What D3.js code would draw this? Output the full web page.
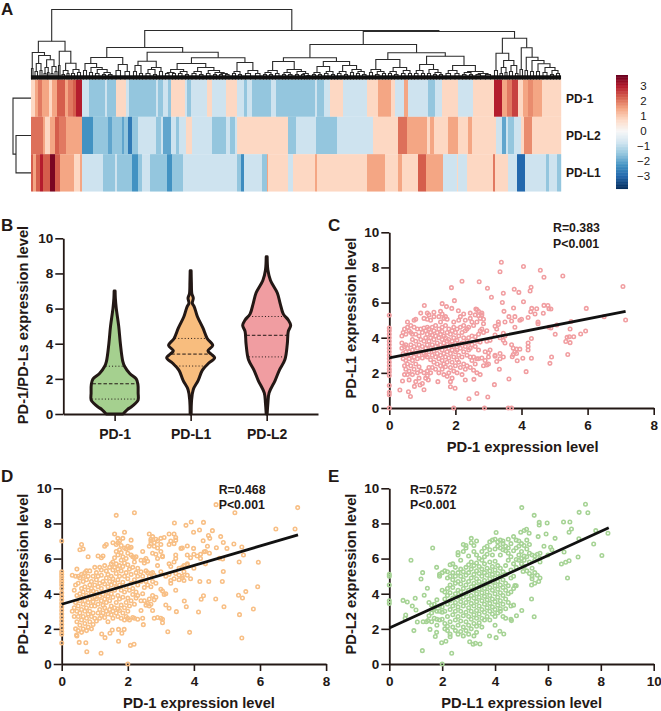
<!DOCTYPE html>
<html>
<head>
<meta charset="utf-8">
<script src="https://cdn.jsdelivr.net/npm/d3@7"></script>
<style>
    html, body { margin: 0; padding: 0; background: #ffffff; }
    svg { display: block; font-family: "Liberation Sans", Arial, sans-serif; }
    text { fill: #231815; }
</style>
</head>
<body>
<div id="graph"></div>
<script>
// ---------- The data ----------

var geneRows = [ 'PD-1', 'PD-L2', 'PD-L1' ];
var sampleCount = 530;
var legendTicks = [ 3, 2, 1, 0, -1, -2, -3 ];

// z-score runs per row: [ first sample of the run, value ]
var runsPD1 = [
    [0,.8],[4,1.5],[7,2],[11,1.5],[18,.8],[21,1.5],[26,2.3],[34,1.5],[37,2],[42,2.3],[45,3],[51,-.8],[58,-1.5],[74,-.8],
    [76,-1.5],[85,.8],[95,-.8],[98,-1.5],[125,-.8],[127,-1.5],[132,-.8],[137,-1.5],[140,.8],[154,-.8],[156,-1.5],[160,-.8],
    [176,.8],[181,-.8],[195,.8],[206,-.8],[213,-1.5],[216,-.8],[221,-1.5],[240,-.8],[245,-1.5],[284,-.8],[286,-1.5],[293,-.8],
    [299,.8],[312,-.8],[336,.8],[347,1.5],[360,.8],[364,-.8],[373,1.5],[377,-.8],[397,-1.5],[404,-.8],[411,.8],[427,-.8],
    [442,.8],[463,3],[471,1.5],[476,2],[481,2.6],[487,.8],[492,1.5],[497,1.8],[502,1.5],[511,.8]
];
var runsPDL2 = [
    [0,2.1],[12,1.5],[14,.8],[19,1.5],[24,2.3],[28,2],[35,1.5],[51,-2.3],[62,-1.5],[77,-2],[81,-1.5],[91,-2],[93,-1.5],
    [97,-2.7],[101,-1.5],[107,-.8],[125,-1.5],[130,-.8],[132,-2],[140,-.8],[145,-1.5],[148,-.8],[155,.8],[161,-.8],
    [181,-1.5],[195,-.8],[199,-1.5],[204,-.8],[206,.8],[257,-1.5],[265,-.8],[285,-1.5],[306,-.8],[342,.8],[367,2.1],
    [376,1.5],[396,.8],[399,1.5],[403,.8],[417,1.5],[427,.8],[437,1.5],[441,.8],[465,-.8],[471,-2],[475,-.8],[477,-1.5],
    [483,-.8],[490,.8],[493,1.8],[501,.8]
];
var runsPDL1 = [
    [0,2.3],[2,1.5],[5,2.3],[9,3],[12,2.3],[19,3.6],[24,2.3],[29,1.5],[43,.8],[49,1.5],[51,-.8],[72,-1.5],[84,-.8],[86,-1.5],
    [101,-2.3],[107,-1.5],[111,-.8],[119,-1.5],[136,-2.3],[141,-1.5],[152,-.8],[206,-1.5],[210,-2.4],[213,-.8],[231,-1.5],
    [236,1.5],[237,.8],[257,-.8],[262,.8],[284,1.5],[286,.8],[336,1.5],[354,.8],[367,1.5],[371,.8],[387,2.3],[395,1.5],
    [412,-.8],[426,.8],[427,-.8],[436,.8],[462,2],[464,.8],[477,-.8],[486,-3],[494,-.8],[515,-1.5],[518,-.8],[526,-1.5]
];

// Sample dendrogram: [ merge distance, left, right ], a plain number is a bundle of that many samples
var sampleTree = [70,
    [38.3,
        [27, [11,1,2],
            [24, [16,[8,2,3],[9,2,2]], [19.7,[12,[6,2,2],[7,1,2]],[13,[6,2,2],[8,2,2]]]]],
        [28.3, [14,1,2], [16.3,[9,[5,2,3],[6,2,2]],[10,[6,3,3],[7,3,3]]]]],
    [49,
        [32,
            [22,
                [16,[9,3,3],[12,[7,3,3],[10,[6,3,4],[7,[5,3,3],[5,3,4]]]]],
                [15,[9,4,5],[8,4,5]]],
            [27.3,
                [18.3,[14,[8,3,3],[6,3,3]],[12,[10,[6,4,4],[5,3,3]],[8,3,3]]],
                [21.7,
                    [16,[10,[7,[6,3,4],[6,3,3]],[8,[6,3,4],[5,3,3]]],
                        [12,[8,[6,4,4],[5,3,4]],[9,[6,3,4],[7,[5,3,3],[6,[5,3,3],[5,3,4]]]]]],
                    [17,[8,[6,3,3],[5,3,3]],[9,[6,5,5],[6,5,4]]]]]],
        [48,
            [35,
                [21.7,
                    [18,[9,[7,[5,3,3],[5,3,3]],[6,3,4]],
                        [10,[7,[5,3,3],[5,3,4]],[8,[5,3,3],[6,[5,3,3],[4,2,3]]]]],
                    [18,[13,[7,[5,3,3],[5,3,3]],[8,[6,3,4],[5,3,3]]],
                        [14,[8,[6,3,4],[5,3,3]],[10,[7,3,3],[8,[6,3,3],[5,3,4]]]]]],
                [26.7,
                    [20,[10,[7,3,3],[8,[5,3,4],[6,3,3]]],[12,[8,[6,3,3],[5,3,4]],[9,[6,3,4],[6,3,3]]]],
                    [23.3,
                        [15,[9,[6,3,4],[6,3,3]],[10,[6,3,3],[7,[5,3,3],[5,3,3]]]],
                        [14,[9,[6,4,5],[6,4,4]],[8,[7,[5,3,4],[5,3,3]],[6,[5,4,5],[5,5,5]]]]]]],
            [41.3,
                [26.3,[9,3,3],[19,[12,[6,2,3],[7,2,2]],[14,[8,3,3],[6,3,2]]]],
                [31.7,[10,2,3],
                    [22.3,[9,2,3],
                        [19,[8,3,3],
                            [15.7,[8,3,3],
                                [12,[7,4,4],[9,[5,3,3],[6,3,3]]]]]]]]]]
];

// Gene dendrogram, leaves in the order of geneRows
var geneTree = [18, 'PD-1', [15, 'PD-L2', 'PD-L1']];

// Violins: [ expression level, density ]
var violinNames = [ 'PD-1', 'PD-L1', 'PD-L2' ];
var violinColours = [ '#a5d08f', '#f8bd7e', '#f09da1' ];
var violinPD1 = [[0,.35],[.25,.53],[.4,.69],[.6,.86],[.8,.98],[1.2,.98],[1.7,.97],[2,.9],[2.3,.63],[2.7,.42],[3,.34],[4,.24],[5,.17],[6,.07],[6.6,.03],[7,.02]];
var violinPDL1 = [[0,.02],[.8,.04],[1.4,.11],[1.9,.31],[2.5,.49],[2.9,.76],[3.2,1],[3.41,.85],[3.6,.72],[3.9,.92],[4.3,.69],[4.9,.51],[5.55,.28],[6.1,.15],[6.3,.07],[6.6,.11],[6.85,.05],[7.5,.03],[8.15,.02]];
var violinPDL2 = [[0,.02],[.6,.05],[1.2,.1],[1.9,.35],[2.5,.53],[3.1,.76],[4,.86],[4.7,.9],[5.05,1],[5.35,.9],[5.7,.69],[6.3,.56],[6.9,.44],[7.6,.16],[8.2,.05],[8.95,.02]];
var violinQuartiles = [ [.85,1.72,2.72], [2.73,3.41,4.3], [3.25,4.48,5.55] ];

var axisTicks = [ 0, 2, 4, 6, 8 ];
var yTicks = [ 0, 2, 4, 6, 8, 10 ];
var xTicksE = [ 0, 2, 4, 6, 8, 10 ];

// Scatter points, grouped by x: [ x, [ y, y, ... ] ]
var pointsC = [
    [0,[5.28,4.55,4.4,4.2,4,3.8,3.6,3.4,3.2,3,2.8,2.6,2.4,2.2,2.05,1.85,1.28,.9,.75,0]],
    [1.95,[0]],[2.88,[0]],[3.6,[0]],[3.7,[0]],
    [.32,[1.02]],[.38,[3.4,3.7,4.1]],[.4,[1.54]],[.42,[2.8,3.1,4.3]],[.46,[1.9,2.4,3.5,4.5]],[.5,[2.2,2.7,3.2,3.6,4.2]],
    [.55,[1.9,2.5,3,3.4,4.6,4.9]],[.58,[.93]],[.6,[1.6,2.1,2.8,3.2,4.4]],[.64,[.65]],[.65,[2.4,3,3.6,4.3,4.7]],[.7,[1.9,2.7,3.3,3.9,4.2]],
    [.75,[2.2,2.9,3.5,4.6,5]],[.76,[1.23]],[.8,[1.5,2.5,3.1,3.8,4.2,5.05]],[.85,[2,2.8,3.4,4.5]],[.9,[1.7,2.35,3,3.6,4.1]],
    [.93,[1.31]],[.95,[2.1,3.2,3.9,4.5,5.4]],[1,[1.4,2.85,3.5,4.3]],[1.05,[1.04,2,3.1,3.8,4.55,5.1]],[1.06,[5.83]],
    [1.1,[1.7,3,3.4,4,4.4]],[1.15,[1.84,2.1,2.9,3.6,4.2,4.6,5.05,5.4]],[1.18,[1.6]],[1.2,[2.3,3.2,3.8,4.5,5.3]],[1.25,[2,2.75,3.4,4,4.3,5]],
    [1.3,[2.3,3,3.6,4.15,4.6]],[1.35,[2.6,3.25,3.9,4.4,5.2,5.45]],[1.4,[2.2,2.9,3.5,4.1,4.7]],[1.45,[2.5,3.1,3.7,4.3]],[1.47,[1.5]],
    [1.5,[2,2.8,3.4,4,4.5,5.2]],[1.55,[2.4,3,3.6,4.2,4.9,5.5]],[1.6,[2.2,2.7,3.3,3.9,4.35,4.6,5.35,5.94]],[1.65,[1.9,2.5,3.1,3.7,4.1,5.1]],
    [1.7,[2.35,2.9,3.5,4,4.7,5.2]],[1.73,[5.77]],[1.75,[1.8,2.6,3.2,3.8,4.3,5.05]],[1.8,[2,2.85,3.4,3.9,4.5]],[1.85,[1.21,1.5,2.3,3.1,3.6,4.2]],
    [1.88,[6.85]],[1.89,[5.67]],[1.9,[1.7,2.6,3.3,3.8,4.4]],[1.95,[2.1,2.9,3.5,4,4.6,4.9]],[1.97,[6.11]],[1.99,[1.12]],[2,[2.4,3.2,3.7,4.3]],
    [2.05,[2,2.75,3.3,3.85,4.5]],[2.09,[5.54]],[2.1,[2.6,3,3.6,4.1,5]],[2.15,[2.3,3.4,4.6,5.2]],[2.2,[1.9,2.9,3.7,4.3,7.21]],
    [2.25,[2.5,3.2,4,4.7,5.35]],[2.3,[1.59,2.2,3.5,4.4,5]],[2.35,[2.4,3,3.8,4.5]],[2.4,[3.3,3.7,4,4.6]],[2.41,[.53]],[2.45,[2.3,2.9,3.4,5.1,5.4]],
    [2.5,[2.7,3.6,4.1,4.9]],[2.55,[2.15,2.9,4.7]],[2.56,[1.63]],[2.6,[2.5,3.5,4.05,5.3]],[2.62,[5.64]],[2.65,[.83,2,2.8,3.8,4.9,5.6]],
    [2.7,[2.8,3.3,4.2,5.25,5.5]],[2.72,[7.19]],[2.75,[1.9,3.75,4.4,5.1]],[2.8,[2.85,4.5,5.3,5.4]],[2.85,[2.4,4.3,4.8,5.05]],[2.9,[2.7,3.2]],
    [2.95,[2.45,3.8,4.4]],[2.97,[6.81]],[2.98,[.63]],[3,[2.5,2.9,3.15]],[3.05,[3.3,3.85]],[3.09,[6.3]],[3.18,[1.33]],[3.2,[2.95,3,4.15,4.65]],
    [3.25,[2.65,4.5]],[3.3,[4.75,4.9]],[3.33,[2.2]],[3.35,[2.8,3.1,4,7.76]],[3.39,[8.29]],[3.42,[6]],[3.45,[2.9,3.85,4.25,6.53]],[3.47,[5.5]],
    [3.5,[3.7,4.1,4.9]],[3.62,[1.65,5.2]],[3.7,[3.6,4.95]],[3.72,[2.92]],[3.75,[3.05,3.4]],[3.76,[5.69]],[3.78,[6.76]],[3.8,[3.2,4.6,5.2]],
    [3.85,[3.1,3.35]],[3.87,[2.69]],[3.92,[6.58]],[3.95,[3.35,5]],[4,[5.05]],[4.04,[2.83]],[4.06,[6.05,8.05]],[4.14,[2.07]],[4.2,[3.3,3.5,3.7,5.15]],
    [4.26,[6.66]],[4.28,[5.48]],[4.29,[6.87]],[4.3,[2.83,3.95]],[4.31,[5.67]],[4.41,[5.35]],[4.46,[5.65]],[4.5,[4.8,4.9]],[4.57,[7.84]],
    [4.66,[5.39]],[4.68,[5.84,7.44]],[4.8,[5.83]],[4.83,[5.65,4.6]],[4.86,[2.54]],[4.89,[5.63,4.55]],[4.91,[2.9]],[5.02,[4.2]],[5.07,[4.72]],
    [5.25,[7.51]],[5.34,[3.78]],[5.38,[4.02]],[5.4,[3.05]],[5.45,[4.05]],[5.47,[3.72,4.5]],[5.5,[4.92]],[5.58,[4.06]],[5.79,[4.21]],[5.94,[4.38]],
    [5.96,[5.67]],[6.5,[5.2]],[7.07,[6.91]],[7.15,[5.01]]
];
var pointsD = [
    [0,[7,5.25,5.1,4.95,4.8,4.65,4.5,4.3,4.05,3.85,3.65,3.45,3.25,3.05,2.85,2.65,2.45,2.25,2.05,1.85,1.7,1.2]],[2,[0]],
    [.32,[3,5.05]],[.38,[2.7,3.2,4.2]],[.42,[2,3.5,4.5,5]],[.45,[1.65]],[.46,[1.6,2.4,3,3.9,5.4]],[.5,[1.9,2.7,3.3,4.6,5]],[.53,[1.23]],
    [.55,[2.2,2.9,3.6,4,4.9,6.5]],[.6,[1.8,2.5,3.1,3.8,4.3,5.1,6.8]],[.65,[2,2.7,3.4,4.1,4.7,5,6.55]],[.7,[2.3,3,3.6,4.4,5.2]],[.73,[1.21]],
    [.75,[1.9,2.6,3.2,3.9,4.8,5.3]],[.76,[.7]],[.8,[2.1,2.85,3.5,4.2,5,6.1]],[.85,[2.4,3,3.7,4.5,5.3]],[.9,[2,2.7,3.3,4,4.3,4.7]],[.95,[2.25,2.9,3.55,4.15,5]],
    [1,[2.6,3.3,3.8,4.5,5.5]],[1.05,[2.45,3.7,4.1,4.8,5.2]],[1.1,[2.9,3.4,4.4,5,6.15]],[1.15,[2.6,3.1,3.85,4.6,5.5]],[1.19,[.61]],
    [1.2,[2.75,3.6,4.3,5.05,5.35,6.05]],[1.21,[1.71]],[1.25,[2.9,3.35,3.95,4.7,6.15]],[1.3,[2.65,3.2,3.7,4.55,5.6,6.7]],[1.31,[1.5]],
    [1.35,[3,3.5,4.1,4.9,5.3,6.8]],[1.4,[2.4,2.85,3.85,4.4,5.1]],[1.45,[3.1,3.6,4.7,5.5]],[1.46,[1.75]],[1.5,[2.8,3.3,4,4.5,5,5.7]],[1.53,[1.94]],
    [1.55,[2.6,3,3.8,4.85,5.35,5.8,6.9]],[1.6,[3.2,4.2,4.6,5.5,6.05,7.4]],[1.65,[2.9,3.5,4.35,5.15,5.7,6.4,6.8,8.46]],[1.7,[2.7,3.15,3.9,4.8,5.4,6.2,6.9,7.15]],
    [1.72,[1.29,1.97]],[1.75,[3.05,3.7,4.5,5,5.6,6.5,7]],[1.8,[2.6,3.35,4.2,5.3,5.9,6.35,6.75]],[1.82,[1.75]],[1.85,[2.9,3.8,4.65,5.55,6.1,7.15]],[1.89,[1.97]],
    [1.9,[2.5,3.2,4.1,5,5.75,6.6,7.5]],[1.95,[2.7,3.5,4.4,5.2,6,6.55]],[2,[2.6,3,3.75,4.85,5.65,6.3,6.7]],[2.05,[2.5,3.3,4.2,5.4,6.6]],[2.08,[1.06]],
    [2.1,[3.6,4.6,5.1,6.2,6.65,7.05]],[2.15,[2.65,3.95,4.3,5.5,6.1]],[2.19,[1.12]],[2.2,[2.6,3.4,4.8,5.8,6.05,8.61]],[2.25,[3.75,4.1,5.2,6.1]],[2.3,[2.55,3.9,4.5,5,5.45]],
    [2.4,[3.05,3.6,4.7,5.25,5.9]],[2.45,[2.6,4,5,6.4]],[2.47,[2.24]],[2.5,[3.6,4.35,5.75,5.9]],[2.55,[3.35,4.7,5.3,6]],[2.6,[3.45,4.5,5.2,5.85]],[2.65,[3.3,3.7,5,6.7,7.4]],
    [2.7,[3.4,4.4,5.15,6.85,7,7.1]],[2.75,[3.05,3.9,4.7,5.2,6.3,7.25]],[2.8,[2.6,3.65,5.05,6.7,6.9]],[2.85,[3.8,4.6,6.25,7.1]],[2.9,[2.65,5.6,6,6.6,7]],
    [3,[2.6,4.25,5.25,6.4,6.8,7.15]],[3.05,[2.35,2.55,4.15,6.1,6.15]],[3.1,[3.95,7.2]],[3.15,[3.36,4,5]],[3.21,[1.84]],[3.25,[3.17,5.1,5.7,6.8,7.4]],[3.3,[4.6,4.75,5.55,7]],
    [3.4,[4.85,5.8,6.85,7.4]],[3.41,[8.03]],[3.45,[4.2,5.15,6,6.2,7.05,7.2]],[3.47,[2.98]],[3.55,[4.8,5.05,5.45]],[3.61,[6.58]],[3.65,[4.9,5,5.5,6.6]],[3.7,[4.75,5.25,5.6]],
    [3.71,[3.59]],[3.76,[7.89]],[3.77,[3.26]],[3.8,[5.05,5.65,5.7,6.2,6.72]],[3.87,[1.8]],[3.9,[4.85,6.05]],[3.92,[8.08]],[3.99,[6.58,7.5]],[4,[5.45,6.25]],[4.1,[6.15]],
    [4.14,[2.96]],[4.17,[7.63]],[4.18,[4.7]],[4.2,[6,6.25]],[4.22,[3.68]],[4.28,[7.02]],[4.29,[3.89,8.06]],[4.31,[6.39]],[4.35,[5.7,6.4]],[4.41,[6.7]],[4.44,[7.31]],
    [4.45,[4.7]],[4.47,[6.3]],[4.48,[7.15]],[4.56,[7.59]],[4.66,[3.7]],[4.67,[9.07]],[4.68,[6.62]],[4.77,[6.02]],[4.81,[7.25]],[4.86,[4.7]],[4.87,[5.98]],[4.89,[5.27,6.91]],
    [4.91,[3.26]],[5,[6.58]],[5.21,[6.83]],[5.24,[8.61]],[5.35,[3.91]],[5.37,[5.8]],[5.38,[2.81]],[5.45,[1.48,6.66]],[5.47,[3.76]],[5.5,[6.2]],[5.57,[4.12]],[5.8,[3.13]],
    [5.93,[4.4]],[5.95,[5.79]],[6.48,[7.68]],[7.06,[7.68]],[7.14,[8.9]]
];
var pointsE = [
    [0,[5.1,5,4.5,3.6,3.45]],[2,[0]],
    [.52,[3.62]],[.6,[2.6]],[.62,[2.79]],[.68,[3.53]],[.82,[5.9]],[.87,[3.3]],[.93,[1.9]],[.98,[3.74]],[1.01,[3.07]],[1.06,[2.39]],[1.2,[4.84]],[1.25,[.76]],[1.26,[5.2]],
    [1.28,[2.41]],[1.32,[3.91]],[1.4,[2.4]],[1.44,[4.31]],[1.46,[2.47]],[1.5,[2.75,3.5]],[1.54,[1.97]],[1.6,[2.4,2.9,3.35]],[1.64,[6.6]],[1.7,[2.6,3.1,3.2,3.4]],
    [1.74,[1.56]],[1.79,[1.8,5.5]],[1.8,[2.2,2.55,3,3.65]],[1.9,[2.5,3,3.3,5,5.1]],[1.98,[1.21]],[2,[2.55,2.95,3.25,4.2,5.2]],[2.1,[2,2.3,3,3.7,4.1,5.3]],[2.14,[1.29]],
    [2.2,[1.9,2.15,2.7,3.4,3.9,4.3,4.9,5.25]],[2.3,[1.55,1.7,2.4,3.1,3.6,4.05,4.5,5,5.65]],[2.36,[.61]],[2.4,[2.1,2.8,3.3,3.75,4.35,4.8,5.2,5.7]],[2.5,[1.9,2.5,3,3.5,4,4.6,5,5.5]],
    [2.6,[1.7,2.2,2.7,3.25,3.8,4.2,4.7,5.2,6.2,6.35]],[2.7,[1.85,2.45,3,3.55,4.1,4.55,5,5.4,5.9]],[2.8,[1.6,2.1,2.75,3.3,3.8,4.3,4.8,5.25,6.4,6.8]],
    [2.9,[1.9,2.4,2.95,3.5,4,4.5,5.05,5.5,6.6,6.75]],[3,[1.7,2.2,2.7,3.2,3.7,4.2,4.7,5.2,5.65,6.15]],[3.04,[1.27]],[3.1,[2,2.55,3,3.45,3.9,4.4,4.9,5.4,5.8,6.9,7.15]],
    [3.17,[1.12]],[3.2,[1.6,2.3,2.8,3.3,3.75,4.2,4.6,5.1,5.6,6.4,6.75]],[3.26,[1.18]],[3.3,[1.8,2.15,2.6,3.05,3.55,4,4.45,4.85,5.3,5.75,6.2,7]],[3.4,[2.35,2.85,3.3,3.8,4.25,4.7,5.15,5.55,6]],
    [3.43,[1.14]],[3.5,[2.1,2.6,3.1,3.6,4.05,4.5,5,5.4,5.9,6.4]],[3.6,[2.5,2.95,3.4,3.85,4.3,4.75,5.2,5.7,6.1,6.6]],[3.7,[2.7,3.2,3.65,4.1,4.55,5.05,5.45,6.25,6.7]],[3.79,[1.59]],
    [3.8,[2.5,3,3.45,3.9,4.35,4.85,5.3,5.8,6.5,6.95]],[3.9,[2.85,3.25,3.7,4.2,4.65,5.1,5.55,6.2,7.05]],[4,[2.2,2.7,3.1,3.55,4,4.45,4.9,5.35,5.85,6.55,7.1]],[4.04,[1.5,7.48]],
    [4.1,[2.9,3.35,3.8,4.25,4.7,5.15,5.6,6.7,6.95]],[4.18,[1.86]],[4.2,[3,3.15,3.6,4.05,4.5,5,5.45,6.2,6.6,7.05]],[4.3,[2.7,3.4,3.9,4.35,4.8,5.25,6.5,6.85,7]],[4.33,[1.71]],
    [4.4,[2.6,3.15,3.7,4.2,4.6,5.1,5.6,6.45,6.7]],[4.5,[3.5,4,4.45,5.9,6.3,6.6,7.1]],[4.6,[2.55,3.3,4.1,4.9,5.35,6.1,6.85]],[4.62,[2.47]],[4.7,[3.35,4.3,5,5.7,6.45,7.25]],[4.75,[4.46]],
    [4.8,[4.45,5.5,5.95,6.6,7.05]],[4.81,[2.75]],[4.9,[5.9,6.2,6.7,7]],[4.97,[7.5]],[5,[5.7,6,6.4,6.85]],[5.01,[3.04,8.9]],[5.06,[5.26]],[5.1,[5.55,5.9,6.15,6.75,7.6]],[5.19,[7.67]],
    [5.2,[5.3,6.1,6.55,7.05]],[5.29,[7.44]],[5.3,[5.15,5.8,6.3,6.8]],[5.38,[3.7,4.5]],[5.4,[4.85,5,5.45,6.2]],[5.48,[2.69,8.46]],[5.5,[4.6,5.2,5.9,6.15]],[5.6,[5.05,6.25]],
    [5.63,[7.25]],[5.65,[4.7]],[5.67,[7.91,8.06]],[5.7,[4.9,5.8,6,6.3]],[5.85,[6.7]],[5.93,[7.4]],[5.97,[8.03]],[6,[6.2]],[6.1,[6.64]],[6.15,[6.5]],[6.27,[7.15]],[6.51,[5.69]],
    [6.59,[8.08]],[6.61,[6.38]],[6.67,[5.79]],[6.74,[4.9]],[6.8,[5.88,7.5]],[6.83,[8.08]],[6.89,[7.68]],[7.14,[6.09]],[7.17,[7.13]],[7.18,[8.63]],[7.42,[9.09]],[7.51,[8.61]],
    [7.73,[6.83]],[7.81,[7.59]],[8.04,[6.17]],[8.27,[7.44]]
];

var fitC = [ [0, 2.85], [7.15, 5.5] ];
var fitD = [ [0, 3.4], [7.15, 7.35] ];
var fitE = [ [0, 2.05], [8.3, 7.75] ];


// ---------- The page ----------

var ink = '#231815';

var svg = d3.select ('#graph').append ('svg')
            .attr ('width', 661)
            .attr ('height', 711);

var addText = function (x, y, str, size, weight, anchor, rotate)
{
    var t = svg.append ('text')
               .attr ('x', x)
               .attr ('y', y)
               .attr ('font-size', size)
               .attr ('font-weight', weight)
               .attr ('text-anchor', anchor)
               .text (str);

    if (rotate)
        t.attr ('transform', 'rotate(-90 ' + x + ' ' + y + ')');
    return t;
};

addText (1, 15, 'A', 17, 'bold', 'start');
addText (1, 231, 'B', 17, 'bold', 'start');
addText (328, 231, 'C', 17, 'bold', 'start');
addText (1, 482, 'D', 17, 'bold', 'start');
addText (328, 482, 'E', 17, 'bold', 'start');


//
// Panel A, heat map
//
var heatColour = d3.scaleLinear ()
                   .domain ( d3.range (11).map (function (i) { return -3.8 + i * 0.76; }) )
                   .range ( [ '#053061', '#2166ac', '#4393c3', '#92c5de', '#d1e5f0', '#f7f7f7',
                              '#fddbc7', '#f4a582', '#d6604d', '#b2182b', '#67001f' ] );

var heatX = d3.scaleLinear ().domain ( [ 0, sampleCount ] ).range ( [ 31, 561 ] );
var heatY = d3.scaleBand ().domain (geneRows).range ( [ 79.5, 191.5 ] );

var expandRuns = function (runs)
{
    var values = [];
    runs.forEach (function (run, i)
    {
        var end = i + 1 < runs.length ? runs[i + 1][0] : sampleCount;
        for (var c = run[0]; c < end; c++)
            values.push ( { col: c, z: run[1] } );
    } );
    return values;
};

[ runsPD1, runsPDL2, runsPDL1 ].forEach (function (runs, r)
{
    svg.append ('g')
       .selectAll ('rect')
       .data (expandRuns (runs))
       .enter ()
       .append ('rect')
       .attr ('x', function (d) { return heatX (d.col); })
       .attr ('y', heatY (geneRows[r]))
       .attr ('width', 1.2)
       .attr ('height', heatY.bandwidth ())
       .attr ('fill', function (d) { return heatColour (d.z); });
} );

geneRows.forEach (function (g)
{
    addText (566, heatY (g) + heatY.bandwidth () / 2 + 4.5, g, 12, 'bold', 'start');
} );


//
// Dendrograms: both come out of d3.hierarchy, leaf positions accumulate along the axis
//
var treeChildren = function (d) { return Array.isArray (d) ? d.slice (1) : null; };

var sampleRoot = d3.hierarchy (sampleTree, treeChildren);
var cursor = 0;
sampleRoot.leaves ().forEach (function (leaf)
{
    leaf.pos = cursor + leaf.data / 2;
    cursor += leaf.data;
} );
sampleRoot.eachAfter (function (n)
{
    n.dist = n.children ? n.data[0] : 0;
    if (n.children)
        n.pos = (n.children[0].pos + n.children[1].pos) / 2;
} );

var treeY = d3.scaleLinear ().domain ( [ 0, 70 ] ).range ( [ 79.5, 9.5 ] );

svg.append ('g')
   .selectAll ('path')
   .data (sampleRoot.descendants ().filter (function (n) { return n.children; }))
   .enter ()
   .append ('path')
   .attr ('fill', 'none')
   .attr ('stroke', '#2b2b2b')
   .attr ('stroke-width', 1.1)
   .attr ('d', function (n)
   {
       var a = n.children[0], b = n.children[1];
       return 'M' + heatX (a.pos) + ',' + treeY (a.dist) + 'V' + treeY (n.dist) +
              'H' + heatX (b.pos) + 'V' + treeY (b.dist);
   } );

// the leaf stubs melt into the black band above the heat map
svg.append ('g')
   .selectAll ('line')
   .data (d3.range (sampleCount))
   .enter ()
   .append ('line')
   .attr ('x1', function (d) { return heatX (d + 0.5); })
   .attr ('x2', function (d) { return heatX (d + 0.5); })
   .attr ('y1', treeY (0))
   .attr ('y2', treeY (4.2))
   .attr ('stroke', '#111111')
   .attr ('stroke-width', 1.1);

var geneRoot = d3.hierarchy (geneTree, treeChildren);
var geneX = d3.scaleLinear ().domain ( [ 0, 18 ] ).range ( [ 31, 13 ] );

geneRoot.eachAfter (function (n)
{
    n.dist = n.children ? n.data[0] : 0;
    n.pos = n.children ? (n.children[0].pos + n.children[1].pos) / 2
                       : heatY (n.data) + heatY.bandwidth () / 2;
} );

svg.append ('g')
   .selectAll ('path')
   .data (geneRoot.descendants ().filter (function (n) { return n.children; }))
   .enter ()
   .append ('path')
   .attr ('fill', 'none')
   .attr ('stroke', '#2b2b2b')
   .attr ('stroke-width', 1.1)
   .attr ('d', function (n)
   {
       var a = n.children[0], b = n.children[1];
       return 'M' + geneX (a.dist) + ',' + a.pos + 'H' + geneX (n.dist) +
              'V' + b.pos + 'H' + geneX (b.dist);
   } );


//
// Colour bar
//
var legendY = d3.scaleLinear ().domain ( [ 3.77, -3.84 ] ).range ( [ 75, 188 ] );

svg.append ('g')
   .selectAll ('rect')
   .data (d3.range (3.77, -3.84, -0.05))
   .enter ()
   .append ('rect')
   .attr ('x', 616)
   .attr ('y', function (d) { return legendY (d); })
   .attr ('width', 12)
   .attr ('height', 1.2)
   .attr ('fill', function (d) { return heatColour (d); });

legendTicks.forEach (function (t)
{
    addText (643.5, legendY (t) + 4, t < 0 ? '\u2212' + (-t) : t, 11.5, 'normal', 'middle');
} );


//
// Styles the thick axes the panels share
//
var styleAxis = function (g, size)
{
    g.selectAll ('.domain').attr ('stroke', ink).attr ('stroke-width', 1.8);
    g.selectAll ('.tick line').attr ('stroke', ink).attr ('stroke-width', 1.6);
    g.selectAll ('.tick text')
     .attr ('font-size', size)
     .attr ('font-weight', 'bold')
     .attr ('fill', ink)
     .attr ('font-family', '"Liberation Sans", Arial, sans-serif');
};


//
// Panel B, violins
//
var violinX = d3.scalePoint ().domain (violinNames).range ( [ 63.3, 318 ] ).padding (0.675);
var violinY = d3.scaleLinear ().domain ( [ 0, 10 ] ).range ( [ 414, 238.3 ] );
var violinW = d3.scaleLinear ().domain ( [ 0, 1 ] ).range ( [ 0, 24 ] );

[ violinPD1, violinPDL1, violinPDL2 ].forEach (function (shape, i)
{
    var c = violinX (violinNames[i]);

    var area = d3.area ()
                 .y (function (d) { return violinY (d[0]); })
                 .x0 (function (d) { return c - violinW (d[1]); })
                 .x1 (function (d) { return c + violinW (d[1]); })
                 .curve (d3.curveCatmullRom);

    svg.append ('path')
       .datum (shape)
       .attr ('d', area)
       .attr ('fill', violinColours[i])
       .attr ('stroke', ink)
       .attr ('stroke-width', 3)
       .attr ('stroke-linejoin', 'round');

    // inner widths for the quartile lines
    var density = d3.scaleLinear ()
                    .domain (shape.map (function (d) { return d[0]; }))
                    .range (shape.map (function (d) { return d[1]; }));

    violinQuartiles[i].forEach (function (q, k)
    {
        svg.append ('line')
           .attr ('x1', c - violinW (density (q)) + 1)
           .attr ('x2', c + violinW (density (q)) - 1)
           .attr ('y1', violinY (q))
           .attr ('y2', violinY (q))
           .attr ('stroke', ink)
           .attr ('stroke-width', 1)
           .attr ('stroke-dasharray', k == 1 ? '3.5 2' : '1 2.2');
    } );
} );

var bAxisY = svg.append ('g')
                .attr ('transform', 'translate(63.3,0)')
                .call (d3.axisLeft (violinY).tickValues (yTicks).tickSize (8).tickSizeOuter (0).tickPadding (2));
styleAxis (bAxisY, 13.5);

var bAxisX = svg.append ('g')
                .attr ('transform', 'translate(0,414)')
                .call (d3.axisBottom (violinX).tickSize (7).tickSizeOuter (0).tickPadding (8));
styleAxis (bAxisX, 14);

addText (28, 325, 'PD-1/PD-Ls expression level', 14.7, 'bold', 'middle', true);


//
// Panels C, D and E, scatter plots
//
var drawScatter = function (points, fit, colour, left, bottom, xMax, xTicks, xTitle, yTitle, xTitleX, yTitleX, stats, statsX, statsY)
{
    var xScale = d3.scaleLinear ().domain ( [ 0, xMax ] ).range ( [ left, left + 264.4 ] );
    var yScale = d3.scaleLinear ().domain ( [ 0, 10 ] ).range ( [ bottom, bottom - 175.7 ] );

    var flat = [];
    points.forEach (function (col)
    {
        col[1].forEach (function (y) { flat.push ( [ col[0], y ] ); });
    } );

    var gx = svg.append ('g')
                .attr ('transform', 'translate(0,' + bottom + ')')
                .call (d3.axisBottom (xScale).tickValues (xTicks).tickSize (7).tickSizeOuter (0).tickPadding (5));
    styleAxis (gx, 13.5);

    var gy = svg.append ('g')
                .attr ('transform', 'translate(' + left + ',0)')
                .call (d3.axisLeft (yScale).tickValues (yTicks).tickSize (8).tickSizeOuter (0).tickPadding (2));
    styleAxis (gy, 13.5);

    svg.append ('g')
       .selectAll ('circle')
       .data (flat)
       .enter ()
       .append ('circle')
       .attr ('cx', function (d) { return xScale (d[0]); })
       .attr ('cy', function (d) { return yScale (d[1]); })
       .attr ('r', 1.75)
       .attr ('fill', 'none')
       .attr ('stroke', colour)
       .attr ('stroke-width', 1.55);

    svg.append ('line')
       .attr ('x1', xScale (fit[0][0]))
       .attr ('y1', yScale (fit[0][1]))
       .attr ('x2', xScale (fit[1][0]))
       .attr ('y2', yScale (fit[1][1]))
       .attr ('stroke', '#111111')
       .attr ('stroke-width', 2.8);

    addText (xTitleX, bottom + 44, xTitle, 14.7, 'bold', 'middle');
    addText (yTitleX, bottom - 90, yTitle, 14.7, 'bold', 'middle', true);

    addText (statsX, statsY, stats[0], 12.3, 'bold', 'start');
    addText (statsX, statsY + 15.5, stats[1], 12.3, 'bold', 'start');
};

drawScatter (pointsC, fitC, '#f19ea1', 389.3, 408, 8, axisTicks, 'PD-1 expression level', 'PD-L1 expression level',
             522.7, 355.5, [ 'R=0.383', 'P<0.001' ], 553, 232);
drawScatter (pointsD, fitD, '#f8bf85', 61.7, 664, 8, axisTicks, 'PD-1 expression level', 'PD-L2 expression level',
             199, 28, [ 'R=0.468', 'P<0.001' ], 218.7, 493.5);
drawScatter (pointsE, fitE, '#a6d395', 389.3, 664, 10, xTicksE, 'PD-L1 expression level', 'PD-L2 expression level',
             521.7, 355.5, [ 'R=0.572', 'P<0.001' ], 410, 493.5);
</script>
</body>
</html>
